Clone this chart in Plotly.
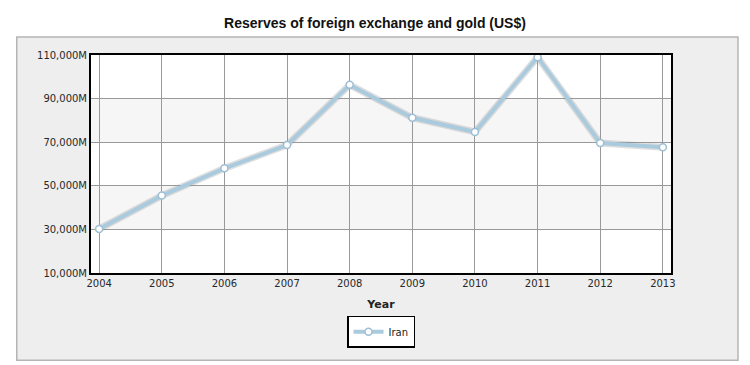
import plotly.graph_objects as go

years = [2004, 2005, 2006, 2007, 2008, 2009, 2010, 2011, 2012, 2013]
reserves = [30200, 45500, 58000, 68700, 96300, 81200, 74700, 109000, 69600, 67700]
ytick_vals = [10000, 30000, 50000, 70000, 90000, 110000]
ytick_text = ["10,000M", "30,000M", "50,000M", "70,000M", "90,000M", "110,000M"]
series_name = "Iran"

fig = go.Figure()

# soft shadow under the line
fig.add_trace(go.Scatter(
    x=years, y=reserves, mode="lines", hoverinfo="skip", showlegend=False,
    line=dict(color="rgba(140,140,140,0.28)", width=7),
))
fig.add_trace(go.Scatter(
    x=years, y=reserves, name=series_name, mode="lines+markers",
    line=dict(color="#aacadd", width=4),
    marker=dict(size=7, color="white", line=dict(color="#9dbfd4", width=1.5)),
    showlegend=True,
))

shapes = [
    dict(type="rect", xref="paper", yref="paper", x0=-0.128, x1=1.1155, y0=-0.40, y1=1.083,
         fillcolor="#eeeeee", line=dict(color="#b5b5b5", width=1.5), layer="below"),
    dict(type="rect", xref="paper", yref="paper", x0=0, x1=1, y0=0, y1=1,
         fillcolor="white", line=dict(width=0), layer="below"),
]
for lo, hi in [(ytick_vals[1], ytick_vals[2]), (ytick_vals[3], ytick_vals[4])]:
    shapes.append(dict(type="rect", xref="paper", yref="y", x0=0, x1=1, y0=lo, y1=hi,
                       fillcolor="#f6f6f6", line=dict(width=0), layer="below"))

fig.update_layout(
    width=750, height=365,
    margin=dict(l=91, r=79, t=55, b=92),
    paper_bgcolor="white", plot_bgcolor="rgba(0,0,0,0)",
    shapes=shapes,
    title=dict(text="<b>Reserves of foreign exchange and gold (US$)</b>",
               x=0.5, xanchor="center", y=0.937, yanchor="middle",
               font=dict(family="Liberation Sans, Arial", size=14, color="#111")),
    xaxis=dict(range=[2003.87, 2013.13], tickmode="array", tickvals=years,
               ticktext=[str(y) for y in years],
               showgrid=True, gridcolor="#999999", gridwidth=1,
               showline=True, linecolor="black", linewidth=2, mirror=True,
               zeroline=False, ticks="", ticklen=0,
               tickfont=dict(family="DejaVu Sans, Verdana", size=10, color="#282828"),
               title=dict(text="<b>Year</b>", standoff=12,
                          font=dict(family="DejaVu Sans, Verdana", size=11, color="#222"))),
    yaxis=dict(range=[10000, 110000], tickmode="array", tickvals=ytick_vals,
               ticktext=ytick_text,
               showgrid=True, gridcolor="#999999", gridwidth=1,
               showline=True, linecolor="black", linewidth=2, mirror=True,
               zeroline=False, ticks="", ticklen=0,
               tickfont=dict(family="DejaVu Sans, Verdana", size=10, color="#282828")),
    legend=dict(x=0.5, xanchor="center", y=-0.27, yanchor="middle",
                bgcolor="white", bordercolor="black", borderwidth=1.5,
                font=dict(family="DejaVu Sans, Verdana", size=10, color="#222"),
                orientation="h", itemwidth=30),
)

fig.write_html("out.html", config={"displayModeBar": False},
               post_script="document.body.style.margin='0';")
